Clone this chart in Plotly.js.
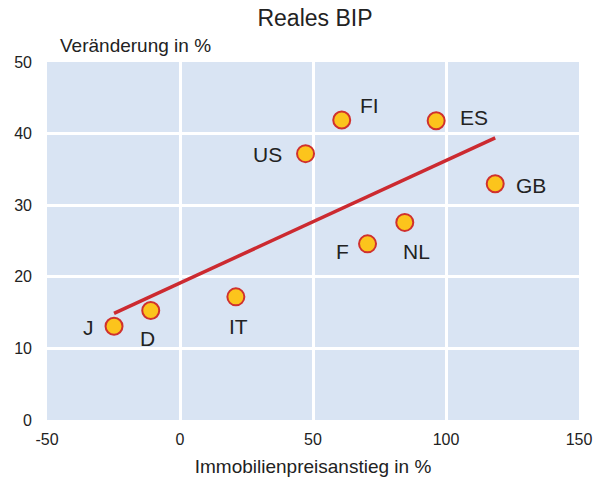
<!DOCTYPE html>
<html><head><meta charset="utf-8">
<script src="https://cdn.plot.ly/plotly-3.0.1.min.js"></script>
<style>html,body{margin:0;padding:0;background:#fff}#chart{width:600px;height:482px}</style>
</head><body><div id="chart"></div>
<script>
var countries = ["J","D","IT","US","FI","F","NL","ES","GB"];
var housePriceGrowth = [-24.8, -11.0, 21.0, 47.2, 60.8, 70.5, 84.5, 96.3, 118.5];
var gdpGrowth = [13.1, 15.3, 17.2, 37.2, 41.9, 24.6, 27.6, 41.8, 33.0];
var trendX = [-24.8, 118.5];
var trendY = [14.9, 39.4];

// label offsets (pixels) for each country label
var labelDx = [-26, -3, 3, -38, 28, -25, 12, 38, 36];
var labelDy = [-1, -28, -30, -1, 15, -8, -29, 3, -2];

var font = "Liberation Sans, Arial, sans-serif";
var traces = [
  {x: trendX, y: trendY, mode: "lines", line: {color: "#cc2a30", width: 3.5}, hoverinfo: "skip"},
  {x: housePriceGrowth, y: gdpGrowth, mode: "markers", text: countries,
   marker: {size: 17, color: "#fcc41c", line: {color: "#d0312d", width: 2}}}
];
var annotations = countries.map(function(c, i){
  return {x: housePriceGrowth[i], y: gdpGrowth[i], text: c, showarrow: false,
    xshift: labelDx[i], yshift: labelDy[i], font: {family: font, size: 21, color: "#222"}};
});
annotations.push({xref: "paper", yref: "paper", x: 0.02, y: 1.047, xanchor: "left", yanchor: "middle",
  text: "Veränderung in %", showarrow: false, font: {family: font, size: 19, color: "#222"}});
var layout = {
  width: 600, height: 482,
  margin: {l: 47, r: 21, t: 62, b: 62},
  paper_bgcolor: "#ffffff", plot_bgcolor: "#d9e4f3",
  showlegend: false,
  font: {family: font, color: "#222", size: 16},
  title: {text: "Reales BIP", x: 0.525, xanchor: "center", y: 0.963, yanchor: "middle", font: {family: font, size: 23, color: "#222"}},
  xaxis: {range: [-50, 150], tickvals: [-50, 0, 50, 100, 150], ticktext: ["-50","0","50","100","150"],
    showgrid: true, gridcolor: "#ffffff", gridwidth: 3, zeroline: false, showline: false,
    ticks: "", ticklabelstandoff: 8,
    title: {text: "Immobilienpreisanstieg in %", font: {family: font, size: 19, color: "#222"}, standoff: 12},
    tickfont: {family: font, size: 16, color: "#222"}},
  yaxis: {range: [0, 50], tickvals: [0, 10, 20, 30, 40, 50],
    showgrid: true, gridcolor: "#ffffff", gridwidth: 3, zeroline: false, showline: false,
    ticks: "", ticklabelstandoff: 14,
    tickfont: {family: font, size: 16, color: "#222"}},
  annotations: annotations
};
Plotly.newPlot("chart", traces, layout, {displayModeBar: false, staticPlot: true});
</script>
</body></html>
